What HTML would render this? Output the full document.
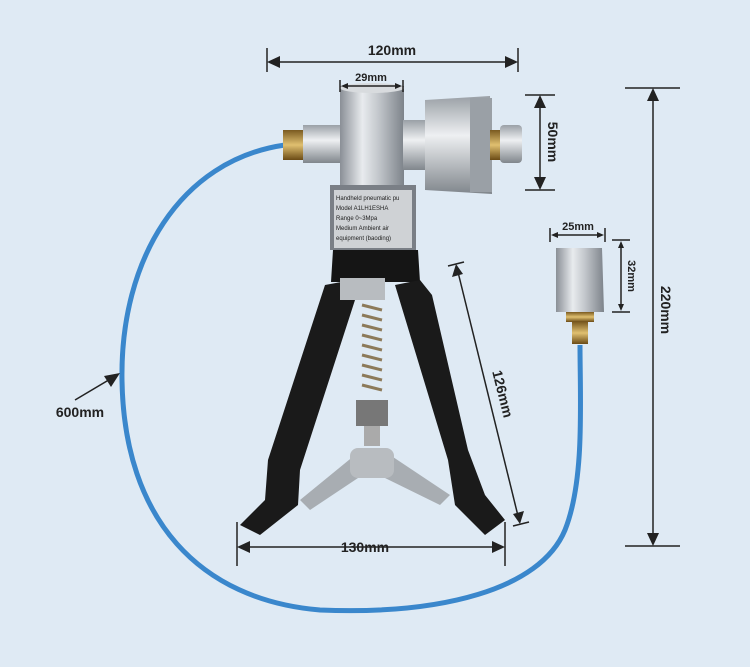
<!DOCTYPE html>
<html><head><meta charset="utf-8"><style>
html,body{margin:0;padding:0;background:#dfeaf4;}
svg{display:block;font-family:"Liberation Sans",sans-serif;font-weight:bold;}
</style></head><body>
<svg width="750" height="667" viewBox="0 0 750 667" xmlns="http://www.w3.org/2000/svg">
<defs>
<linearGradient id="sil" x1="0" x2="1" y1="0" y2="0">
<stop offset="0" stop-color="#8a8f96"/><stop offset="0.35" stop-color="#e8ebee"/><stop offset="0.6" stop-color="#c3c7cc"/><stop offset="1" stop-color="#7d838a"/></linearGradient>
<linearGradient id="silv" x1="0" x2="0" y1="0" y2="1">
<stop offset="0" stop-color="#9aa0a6"/><stop offset="0.4" stop-color="#eef0f2"/><stop offset="1" stop-color="#80868c"/></linearGradient>
<linearGradient id="brass" x1="0" x2="0" y1="0" y2="1">
<stop offset="0" stop-color="#7a5a20"/><stop offset="0.5" stop-color="#e0c070"/><stop offset="1" stop-color="#6a4a15"/></linearGradient>
</defs>
<rect width="750" height="667" fill="#dfeaf4"/>

<!-- hose -->
<path d="M285,145 C180,160 120,260 122,380 C124,520 200,600 320,610 C440,615 540,590 565,530 C585,480 580,400 580,345" fill="none" stroke="#3a87cc" stroke-width="5"/>

<!-- left fitting -->
<rect x="283" y="130" width="20" height="30" fill="url(#brass)"/>
<rect x="303" y="125" width="38" height="38" fill="url(#silv)"/>

<!-- body -->
<rect x="340" y="86" width="64" height="105" fill="url(#sil)"/>
<ellipse cx="372" cy="88" rx="32" ry="5" fill="#d8dbde"/>
<rect x="330" y="185" width="86" height="65" fill="#7a7f86"/>
<rect x="334" y="190" width="78" height="58" fill="#cfd2d5"/>
<g font-size="6" font-weight="normal" fill="#222">
<text x="336" y="200">Handheld pneumatic pu</text>
<text x="336" y="210">Model   A1LH1ESHA</text>
<text x="336" y="220">Range   0~3Mpa</text>
<text x="336" y="230">Medium  Ambient air</text>
<text x="336" y="240">equipment (baoding)</text>
</g>
<path d="M333,250 L418,250 L420,282 L331,282 Z" fill="#151515"/>

<!-- knob -->
<rect x="403" y="120" width="30" height="50" fill="url(#silv)"/>
<path d="M425,100 L490,96 L492,194 L425,190 Z" fill="url(#silv)"/>
<rect x="470" y="98" width="22" height="94" fill="#9aa0a6"/>
<rect x="490" y="130" width="12" height="30" fill="url(#brass)"/>
<rect x="500" y="125" width="22" height="38" rx="4" fill="url(#silv)"/>

<!-- handles -->
<path d="M325,285 L352,280 L355,300 L300,470 L298,505 L260,535 L240,525 L265,500 L268,460 Z" fill="#1a1a1a"/>
<path d="M395,285 L420,280 L432,295 L468,450 L485,495 L505,520 L485,535 L455,505 L448,460 Z" fill="#1a1a1a"/>
<rect x="340" y="278" width="45" height="22" fill="#b8bcc0"/>
<!-- spring -->
<g stroke="#8c7a5a" stroke-width="3">
<line x1="362" y1="305" x2="382" y2="310"/><line x1="362" y1="315" x2="382" y2="320"/><line x1="362" y1="325" x2="382" y2="330"/><line x1="362" y1="335" x2="382" y2="340"/><line x1="362" y1="345" x2="382" y2="350"/><line x1="362" y1="355" x2="382" y2="360"/><line x1="362" y1="365" x2="382" y2="370"/><line x1="362" y1="375" x2="382" y2="380"/><line x1="362" y1="385" x2="382" y2="390"/>
</g>
<rect x="356" y="400" width="32" height="26" fill="#777"/>
<rect x="364" y="426" width="16" height="20" fill="#aaa"/>
<path d="M300,500 L355,455 L390,455 L450,495 L440,505 L385,478 L358,478 L310,510 Z" fill="#a8adb2"/>
<rect x="350" y="448" width="44" height="30" rx="8" fill="#b8bcc0"/>

<!-- adapter -->
<path d="M556,248 L602,248 L604,312 L556,312 Z" fill="url(#sil)"/>
<rect x="566" y="312" width="28" height="10" fill="url(#brass)"/>
<rect x="572" y="322" width="16" height="22" fill="url(#brass)"/>

<!-- dimension lines -->
<g stroke="#222" stroke-width="1.5" fill="none">
<line x1="267" y1="48" x2="267" y2="72"/><line x1="518" y1="48" x2="518" y2="72"/>
<line x1="272" y1="62" x2="513" y2="62"/>
<line x1="340" y1="80" x2="340" y2="92"/><line x1="403" y1="80" x2="403" y2="92"/><line x1="343" y1="86" x2="400" y2="86"/>
<line x1="525" y1="95" x2="555" y2="95"/><line x1="525" y1="190" x2="555" y2="190"/><line x1="540" y1="100" x2="540" y2="185"/>
<line x1="625" y1="88" x2="680" y2="88"/><line x1="625" y1="546" x2="680" y2="546"/><line x1="653" y1="94" x2="653" y2="540"/>
<line x1="550" y1="228" x2="550" y2="242"/><line x1="605" y1="228" x2="605" y2="242"/><line x1="554" y1="235" x2="601" y2="235"/>
<line x1="612" y1="240" x2="630" y2="240"/><line x1="612" y1="312" x2="630" y2="312"/><line x1="621" y1="244" x2="621" y2="308"/>
<line x1="448" y1="266" x2="464" y2="262"/><line x1="513" y1="526" x2="529" y2="522"/><line x1="457" y1="268" x2="519" y2="520"/>
<line x1="237" y1="522" x2="237" y2="566"/><line x1="505" y1="522" x2="505" y2="566"/><line x1="242" y1="547" x2="500" y2="547"/>
<line x1="75" y1="400" x2="112" y2="378"/>
</g>
<g fill="#222">
<path d="M267,62 L280,56 L280,68 Z"/><path d="M518,62 L505,56 L505,68 Z"/>
<path d="M341,86 L348,83 L348,89 Z"/><path d="M402,86 L395,83 L395,89 Z"/>
<path d="M540,95 L534,108 L546,108 Z"/><path d="M540,190 L534,177 L546,177 Z"/>
<path d="M653,88 L647,101 L659,101 Z"/><path d="M653,546 L647,533 L659,533 Z"/>
<path d="M551,235 L558,232 L558,238 Z"/><path d="M604,235 L597,232 L597,238 Z"/>
<path d="M621,241 L618,248 L624,248 Z"/><path d="M621,311 L618,304 L624,304 Z"/>
<path d="M456,264 L452,277 L463,274 Z"/><path d="M520,524 L524,511 L513,514 Z"/>
<path d="M237,547 L250,541 L250,553 Z"/><path d="M505,547 L492,541 L492,553 Z"/>
<path d="M120,373 L104,376 L111,387 Z"/>
</g>
<g fill="#222" font-size="14">
<text x="392" y="55" text-anchor="middle">120mm</text>
<text x="371" y="81" text-anchor="middle" font-size="11">29mm</text>
<text x="578" y="230" text-anchor="middle" font-size="11">25mm</text>
<text x="365" y="552" text-anchor="middle">130mm</text>
<text x="80" y="417" text-anchor="middle">600mm</text>
<text transform="translate(548,142) rotate(90)" text-anchor="middle">50mm</text>
<text transform="translate(661,310) rotate(90)" text-anchor="middle">220mm</text>
<text transform="translate(628,276) rotate(90)" text-anchor="middle" font-size="11">32mm</text>
<text transform="translate(498,395) rotate(76)" text-anchor="middle">126mm</text>
</g>
</svg>
</body></html>
